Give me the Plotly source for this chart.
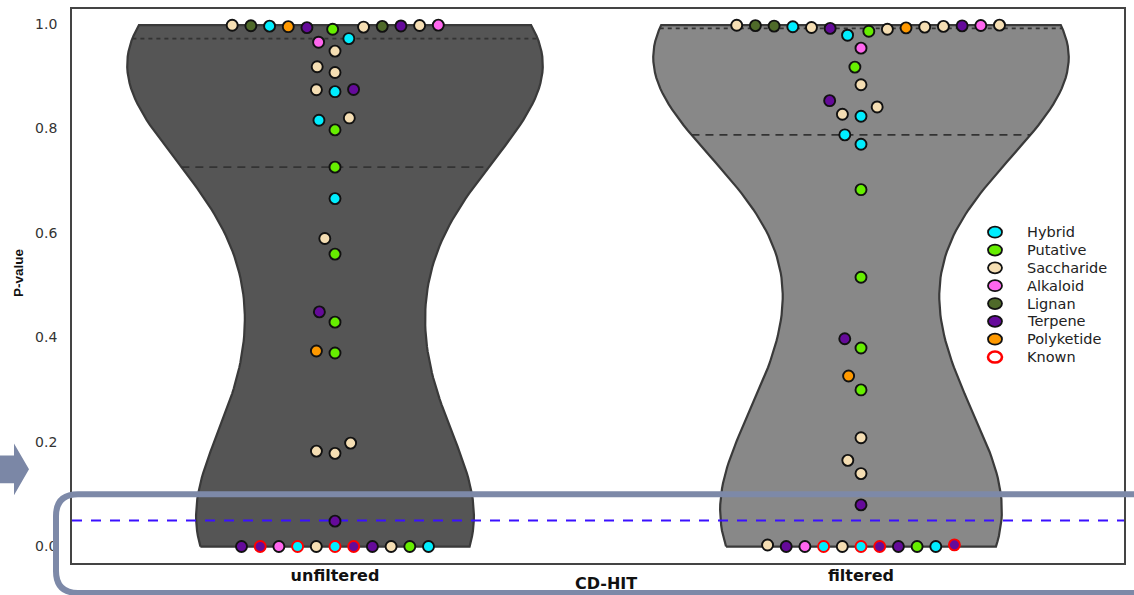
import numpy as np
import plotly.graph_objects as go

# ---------------- data ----------------
GROUPS = ["unfiltered", "filtered"]
CLASSES = ["Hybrid", "Putative", "Saccharide", "Alkaloid", "Lignan", "Terpene", "Polyketide"]
LEGEND_LABELS = CLASSES + ["Known"]

unf_values = [0.9899, 0.9930, 0.9940, 0.9948, 0.9954, 0.9958, 0.9962, 0.9966, 0.9970, 0.9974, 0.9978,
              0.9720, 0.9651, 0.9480, 0.9180, 0.9071, 0.8747, 0.8742, 0.8704, 0.8202, 0.8156, 0.7973,
              0.7260, 0.6658, 0.5895, 0.5596, 0.4490, 0.4294, 0.3741, 0.3703, 0.1979, 0.1826, 0.1783,
              0.0486,
              0.0, 0.0, 0.0, 0.0, 0.0, 0.0, 0.0, 0.0, 0.0, 0.0, 0.0]
unf_class = ["Putative", "Terpene", "Saccharide", "Polyketide", "Lignan", "Hybrid", "Terpene", "Lignan",
             "Saccharide", "Saccharide", "Alkaloid",
             "Hybrid", "Alkaloid", "Saccharide", "Saccharide", "Saccharide", "Terpene", "Saccharide",
             "Hybrid", "Saccharide", "Hybrid", "Putative",
             "Putative", "Hybrid", "Saccharide", "Putative", "Terpene", "Putative", "Polyketide",
             "Putative", "Saccharide", "Saccharide", "Saccharide",
             "Terpene",
             "Hybrid", "Saccharide", "Terpene", "Hybrid", "Terpene", "Alkaloid", "Saccharide",
             "Terpene", "Putative", "Terpene", "Hybrid"]
unf_known = [0] * 34 + [1, 0, 1, 1, 0, 0, 0, 1, 0, 0, 0]

fil_values = [0.9785, 0.9861, 0.9899, 0.9915, 0.9925, 0.9932, 0.9940, 0.9947, 0.9953, 0.9959, 0.9964,
              0.9968, 0.9971, 0.9974, 0.9977,
              0.9537, 0.9174, 0.8837, 0.8532, 0.8412, 0.8271, 0.8233, 0.7878, 0.7699,
              0.6829, 0.5152, 0.3975, 0.3798, 0.3264, 0.2997, 0.2082, 0.1649, 0.1396, 0.0797,
              0.0, 0.0, 0.0, 0.0, 0.0, 0.0, 0.0, 0.0, 0.0, 0.0030, 0.0032]
fil_class = ["Hybrid", "Putative", "Saccharide", "Terpene", "Polyketide", "Saccharide", "Saccharide",
             "Hybrid", "Saccharide", "Lignan", "Terpene", "Lignan", "Alkaloid", "Saccharide", "Saccharide",
             "Alkaloid", "Putative", "Saccharide", "Terpene", "Saccharide", "Saccharide", "Hybrid",
             "Hybrid", "Hybrid",
             "Putative", "Putative", "Terpene", "Putative", "Polyketide", "Putative", "Saccharide",
             "Saccharide", "Saccharide", "Terpene",
             "Hybrid", "Saccharide", "Terpene", "Hybrid", "Terpene", "Alkaloid", "Putative", "Terpene",
             "Hybrid", "Saccharide", "Terpene"]
fil_known = [0] * 34 + [1, 0, 1, 1, 0, 0, 0, 0, 0, 0, 1]

THRESHOLD = 0.05
Y_TICKS = [0.0, 0.2, 0.4, 0.6, 0.8, 1.0]

# ---------------- style ----------------
COLORS = {"Hybrid": "#00EEFF", "Putative": "#66EE00", "Saccharide": "#F5DEB3", "Alkaloid": "#FF66EE",
          "Lignan": "#4F6A2A", "Terpene": "#650A9A", "Polyketide": "#FF9900"}
VIOLIN_FILL = ["#555555", "#888888"]
FONT_WIDE = "DejaVu Sans, Verdana, sans-serif"
FONT = "Liberation Sans, Arial, sans-serif"

X_RANGE = [-0.5, 1.5]
Y_RANGE = [-0.0315, 1.0286]
M_L, M_R, M_T, M_B = 72, 10, 7, 32
W, H = 1134, 595
PW, PH = W - M_L - M_R, H - M_T - M_B
PX_X = PW / (X_RANGE[1] - X_RANGE[0])
PX_Y = PH / (Y_RANGE[1] - Y_RANGE[0])
HALF_WIDTH = 0.395
SWARM_D = 18.7  # px


def kde(vals, grid):
    v = np.asarray(vals, float)
    bw = len(v) ** (-1 / 5) * v.std(ddof=1)
    z = (grid[:, None] - v[None, :]) / bw
    return np.exp(-0.5 * z ** 2).sum(1)


def beeswarm(vals, d=SWARM_D):
    v = np.asarray(vals, float) * PX_Y
    order = np.argsort(v, kind="stable")
    xs = np.zeros(len(v))
    placed = []
    for i in order:
        yi = v[i]
        neigh = [j for j in placed if abs(v[j] - yi) < d]
        cands = [0.0]
        for j in neigh:
            dx = np.sqrt(max(d * d - (v[j] - yi) ** 2, 0))
            cands += [xs[j] - dx, xs[j] + dx]
        cands = sorted(cands, key=lambda c: round(abs(c), 6))
        for c in cands:
            if all((c - xs[j]) ** 2 + (v[j] - yi) ** 2 >= d * d - 1e-6 for j in neigh):
                xs[i] = c
                break
        placed.append(i)
    return xs / PX_X


def px(xp, yp):
    """page pixel -> paper coordinates"""
    return (xp - M_L) / PW, (H - M_B - yp) / PH


fig = go.Figure()
datasets = [(unf_values, unf_class, unf_known), (fil_values, fil_class, fil_known)]

for gi, (vals, cls, kn) in enumerate(datasets):
    v = np.asarray(vals, float)
    grid = np.linspace(v.min(), v.max(), 100)
    dens = kde(v, grid)
    hw = dens / dens.max() * HALF_WIDTH
    xs = np.concatenate([gi - hw, (gi + hw)[::-1], [gi - hw[0]]])
    ys = np.concatenate([grid, grid[::-1], [grid[0]]])
    fig.add_trace(go.Scatter(x=xs, y=ys, mode="lines", fill="toself", fillcolor=VIOLIN_FILL[gi],
                             line=dict(color="#3a3a3a", width=2.2), hoverinfo="skip", showlegend=False))
    q50, q75 = np.percentile(v, [50, 75])
    for q, dash in [(q50, "8px,6px"), (q75, "4px,4px")]:
        w = np.interp(q, grid, hw)
        fig.add_trace(go.Scatter(x=[gi - w, gi + w], y=[q, q], mode="lines",
                                 line=dict(color="#333333", width=1.8, dash=dash),
                                 hoverinfo="skip", showlegend=False))

fig.add_trace(go.Scatter(x=X_RANGE, y=[THRESHOLD, THRESHOLD], mode="lines",
                         line=dict(color="#3a10ff", width=2, dash="10px,9px"),
                         hoverinfo="skip", showlegend=False))

for gi, (vals, cls, kn) in enumerate(datasets):
    offs = beeswarm(vals)
    fig.add_trace(go.Scatter(
        x=gi + offs, y=vals, mode="markers", showlegend=False,
        marker=dict(size=11, color=[COLORS[c] for c in cls],
                    line=dict(color=["#ff0000" if k else "#111111" for k in kn], width=1.9)),
        text=cls, hovertemplate="%{text}: %{y}<extra></extra>"))

# ---------------- legend (drawn in page pixels) ----------------
LEG_X, LEG_Y0, LEG_DY = 995, 231, 17.9
for k, lab in enumerate(LEGEND_LABELS):
    yy = LEG_Y0 + k * LEG_DY
    xp, yp = px(LEG_X, yy)
    if lab == "Known":
        fill, edge, lw = "#ffffff", "#ff0000", 2.6
    else:
        fill, edge, lw = COLORS[lab], "#111111", 1.8
    fig.add_shape(type="circle", xref="paper", yref="paper", xsizemode="pixel", ysizemode="pixel",
                  xanchor=xp, yanchor=yp, x0=-7, x1=7, y0=-5.5, y1=5.5,
                  fillcolor=fill, line=dict(color=edge, width=lw), layer="above")
    fig.add_annotation(text=lab, xref="paper", yref="paper", x=px(1025, 0)[0], y=yp,
                       xanchor="left", yanchor="middle", showarrow=False,
                       font=dict(family=FONT_WIDE, size=14.5, color="#222"))

# ---------------- decorations: arrow and rounded highlight frame ----------------
arrow_pts = [(0, 455), (14, 455), (14, 443), (29, 469), (14, 495), (14, 483), (0, 483)]
p = "M " + " L ".join("%.5f,%.5f" % px(a, b) for a, b in arrow_pts) + " Z"
fig.add_shape(type="path", xref="paper", yref="paper", path=p, fillcolor="#7B87A6",
              line=dict(width=0), layer="above")

r = 22
L, T, R, B = 56, 494, 1170, 593
segs = [
    "M %.5f,%.5f" % px(L + r, T),
    "L %.5f,%.5f" % px(R, T),
    "L %.5f,%.5f" % px(R, B),
    "L %.5f,%.5f" % px(L + r, B),
    "Q %.5f,%.5f %.5f,%.5f" % (*px(L, B), *px(L, B - r)),
    "L %.5f,%.5f" % px(L, T + r),
    "Q %.5f,%.5f %.5f,%.5f" % (*px(L, T), *px(L + r, T)),
]
fig.add_shape(type="path", xref="paper", yref="paper", path=" ".join(segs) + " Z",
              line=dict(color="#7D89A8", width=6), fillcolor="rgba(0,0,0,0)", layer="above")

fig.add_annotation(text="<b>P-value</b>", xref="paper", yref="paper", x=px(18, 0)[0], y=px(0, 272)[1],
                   textangle=-90, showarrow=False, font=dict(family=FONT, size=13.5, color="#111"),
                   xanchor="center", yanchor="middle")
fig.add_annotation(text="<b>CD-HIT</b>", xref="paper", yref="paper", x=px(606, 0)[0], y=px(0, 584)[1],
                   showarrow=False, font=dict(family=FONT_WIDE, size=16, color="#111"),
                   xanchor="center", yanchor="middle")

fig.update_layout(
    width=W, height=H, margin=dict(l=M_L, r=M_R, t=M_T, b=M_B),
    paper_bgcolor="white", plot_bgcolor="white",
    font=dict(family=FONT, color="#222"),
    showlegend=False, hovermode="closest",
)
fig.update_xaxes(range=X_RANGE, tickmode="array", tickvals=[0, 1], ticktext=GROUPS,
                 tickfont=dict(family=FONT_WIDE, size=16, color="#111", weight="bold"),
                 showgrid=False, zeroline=False, showline=True, mirror=True,
                 linecolor="#444", linewidth=1.8, ticks="", ticklabelstandoff=-3)
fig.update_yaxes(range=Y_RANGE, tickmode="array", tickvals=Y_TICKS,
                 ticktext=["%.1f" % t for t in Y_TICKS],
                 tickfont=dict(family=FONT_WIDE, size=14, color="#333"),
                 showgrid=False, zeroline=False, showline=True, mirror=True,
                 linecolor="#444", linewidth=1.8, ticks="", ticklabelstandoff=10)

fig.write_html("out.html", config={"displayModeBar": False},
               post_script="document.body.style.margin='0px';")
